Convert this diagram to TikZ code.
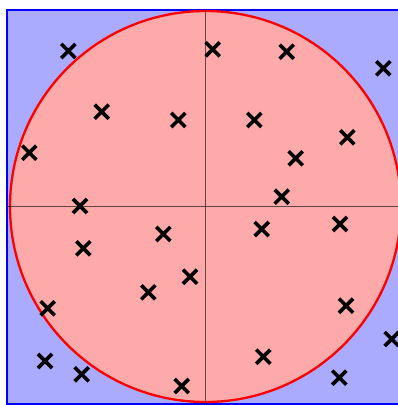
\documentclass[tikz,border=0pt]{standalone}
\usetikzlibrary{shapes.misc}
\definecolor{sqfill}{HTML}{AAAAFF}
\definecolor{cfill}{HTML}{FFAAAA}
\tikzset{
  mk/.style={cross out, draw=black, line width=3.6pt, minimum size=10.5pt, inner sep=0pt},
  axis/.style={draw=black, draw opacity=0.6, line width=1.7pt},
}
\begin{document}
\begin{tikzpicture}[x=1pt,y=-1pt]
\useasboundingbox (0,0) rectangle (398,405);
\fill[white] (0,0) rectangle (398,405);
\draw[fill=sqfill, draw=blue, line width=2.6pt] (7,10) rectangle (401,404);
\draw[fill=cfill, draw=red, line width=2.3pt] (205.5,206.5) circle (195.5);
\coordinate (vt) at (205.5,10);
\coordinate (vb) at (205.5,404);
\coordinate (hl) at (7,206.5);
\coordinate (hr) at (401,206.5);
\draw[axis] (vt) -- (vb);
\draw[axis] (hl) -- (hr);
\foreach \x/\y [count=\i] in {
 212.7/49.3, 178.3/120, 254.3/120, 68.3/51, 101.7/111.7, 286.7/51.7, 383.3/68.3,
 29.3/152.7, 80/206, 83.3/248.3, 163.3/234, 261.7/229, 347.3/137.3, 295.7/158.3,
 281.7/196.7, 340/224, 190/276.7, 148.3/292.3, 181.7/386, 263.3/356.7,
 47.7/308.3, 45/361, 81.7/374.3, 346/305.7, 391.7/339, 339.3/377.7}
 \node[mk] (m\i) at (\x,\y) {};
\end{tikzpicture}
\end{document}
